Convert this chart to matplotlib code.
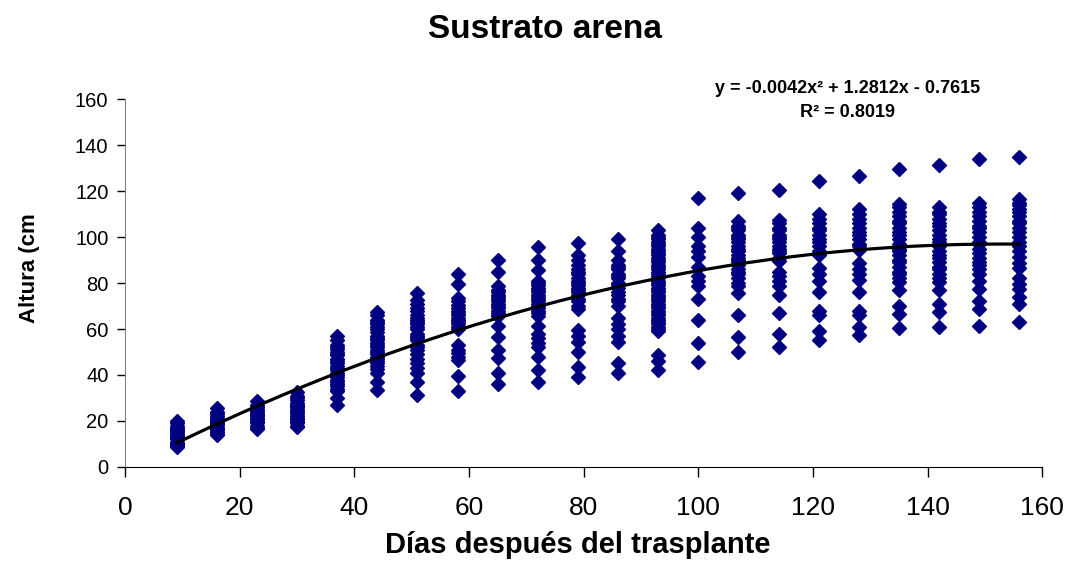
import numpy as np
import matplotlib
matplotlib.use("Agg")
import matplotlib.pyplot as plt
from matplotlib.transforms import Bbox

plt.rcParams['font.family'] = ['Liberation Sans', 'DejaVu Sans']

dias = [9, 16, 23, 30, 37, 44, 51, 58, 65, 72, 79, 86, 93, 100, 107, 114, 121, 128, 135, 142, 149, 156]
alturas = [
    [20, 19, 18, 17, 16.5, 16, 15.5, 15, 14.5, 14, 13.5, 13, 12.5, 12, 11, 10.5, 10, 9.5, 9, 8.5],
    [25.5, 24, 23, 22, 21.5, 21, 20.5, 20, 19.5, 19, 18.5, 18, 17, 16.5, 16, 15, 14.5, 14],
    [28.5, 27, 26, 25, 24.5, 24, 23, 22.5, 22, 21.5, 21, 20, 19.5, 19, 18, 17, 16.5],
    [32.5, 31, 30, 29, 28, 27, 26.5, 26, 25, 24.5, 24, 23, 22, 21.5, 21, 20, 19.5, 19, 18, 17.5],
    [57, 55, 53, 52, 51.5, 50, 49, 48.5, 47, 46, 45, 44, 43, 42, 41, 40, 39, 38, 37, 36, 35, 34, 33, 30, 27],
    [67.5, 66, 64, 63, 62, 61, 60, 58.5, 57, 56, 55, 54, 53, 52, 51, 50, 49, 48, 47, 46, 45, 44, 42.5, 41, 37, 33.5],
    [75.5, 72.5, 71, 69, 68, 66, 65, 64, 63, 62, 61, 60, 58, 57, 56, 55, 53, 52, 51, 49, 47, 45, 43, 41, 37, 31.5],
    [84, 79.5, 73.5, 72, 70.5, 69, 68, 67, 66, 65, 64, 63, 62, 61, 60, 53, 51, 49.5, 48, 46.5, 39.5, 33],
    [90, 85, 78.5, 77, 76, 75, 74, 73, 72, 71, 70, 69, 68, 67, 66, 65.5, 61.5, 56.5, 51, 47.5, 41, 36],
    [95.5, 90, 85.5, 81, 80, 79, 78, 77, 76, 75, 74, 73, 72, 71, 70, 69, 68, 67, 65.5, 61.5, 58, 56, 54, 52, 48, 42, 37],
    [97.5, 92, 90, 88, 86, 85, 84, 82, 81, 80, 79, 78, 77, 76, 75, 73, 72, 70, 68.5, 59.5, 57, 54.5, 50, 43.5, 39],
    [99, 94, 90, 88, 87, 86, 84, 83, 82, 80, 79, 78, 76, 75, 73, 72, 70, 65, 62, 60, 57, 54.5, 45, 41],
    [103, 101, 100, 99, 98, 97, 96, 95, 94, 93, 92, 91, 90, 89, 88, 87, 86, 85, 84, 83, 82, 81, 80, 79, 78,
     77, 76, 75, 74, 73, 72, 71, 70, 69, 68, 67, 66, 65, 64, 63, 62, 61, 60, 59, 48.5, 46, 42],
    [117, 104, 100, 96, 94, 91.5, 87, 83, 81, 78.5, 73, 64, 54, 45.5],
    [119, 107, 105, 104, 103, 101, 100, 99, 98, 96, 95, 94, 92, 91, 90, 89, 88, 86, 85, 84, 82, 80, 78.5, 75.5, 66, 56.5, 50],
    [120.5, 107.5, 106, 104, 103, 101, 100, 99, 98, 96, 95, 94, 93, 91, 89.5, 85, 83, 81, 78.5, 75, 67, 58, 52],
    [124.5, 110, 108, 106, 104, 103, 101, 99, 98, 96, 94, 92, 86.5, 84, 81, 76, 68, 66, 59, 55],
    [126.5, 112, 110, 108, 106, 104, 102, 101, 99, 97, 96, 94.5, 88.5, 86, 84, 81.5, 76, 68, 66, 61, 57.5],
    [129.5, 114.5, 113, 111, 109, 107, 106, 104, 102, 101, 99, 97, 95, 94, 92, 90, 89, 87, 85, 84, 82, 80.5, 77, 70, 66.5, 60.5],
    [131.5, 113, 111, 110, 108, 106, 105, 103, 101, 99, 98, 96, 94, 92, 91, 89, 87, 86, 84, 82, 80.5, 77, 71, 67.5, 61],
    [134, 115, 113, 111, 109, 107, 105, 104, 102, 100, 98, 97, 95, 93, 91, 89, 88, 86, 84, 81, 77.5, 72, 68.5, 61.5],
    [135, 116.5, 115, 114, 112, 111, 109, 107, 106, 104, 102, 100, 98, 96, 94, 91.5, 88.5, 86.5, 82, 79.5, 77.5, 74, 71, 63],
]

# linea de tendencia polinomica (coeficientes del grafico)
coef = [-0.0042, 1.2812, -0.7615]
r2 = 0.8019

xs = []
ys = []
for d, vals in zip(dias, alturas):
    xs += [d] * len(vals)
    ys += vals

fig = plt.figure(figsize=(10.69, 5.88), dpi=100)
ax = fig.add_axes([0.117, 0.2058, 0.858, 0.6258])

ax.plot(xs, ys, linestyle='none', marker='D', ms=7, color='#000080', mec='#000080')

xt = np.linspace(dias[0], dias[-1], 200)
ax.plot(xt, np.polyval(coef, xt), color='black', lw=2.3)

ax.set_xlim(0, 160)
ax.set_ylim(0, 160)
ax.set_xticks(range(0, 161, 20))
ax.set_yticks(range(0, 161, 20))
ax.spines['top'].set_visible(False)
ax.spines['right'].set_visible(False)
ax.spines['left'].set_color('#808080')
ax.spines['bottom'].set_color('black')
ax.tick_params(axis='x', length=7, width=1, labelsize=19, pad=14)
ax.tick_params(axis='y', length=6, width=1, labelsize=14.5, pad=6)

fig.text(0.793, 0.850, "y = -0.0042x² + 1.2812x - 0.7615", ha='center', va='center',
         fontsize=13, fontweight='bold')
fig.text(0.793, 0.808, "R² = %.4f" % r2, ha='center', va='center',
         fontsize=13, fontweight='bold')

fig.text(0.51, 0.949, "Sustrato arena", ha='center', va='center', fontsize=24, fontweight='bold')
fig.text(0.54, 0.073, "Días después del trasplante", ha='center', va='center', fontsize=21, fontweight='bold')

# la etiqueta del eje y aparece recortada en el original
yl = fig.text(0.028, 0.551, "Altura (cm)", ha='center', va='center', rotation=90,
              fontsize=16, fontweight='bold', clip_on=True)
yl.set_clip_box(Bbox.from_extents(0, 0, 100, 588 - 215))

fig.savefig("out.png", dpi=100)
